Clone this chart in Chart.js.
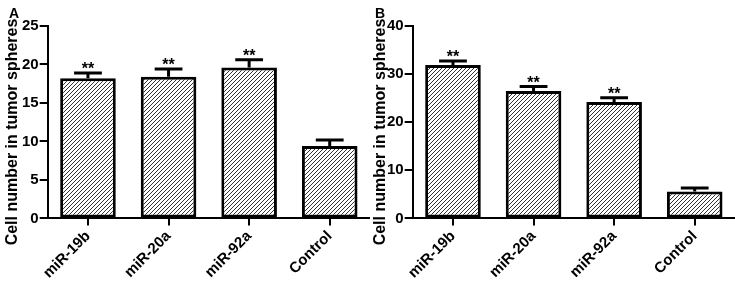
<!DOCTYPE html>
<html>
<head>
<meta charset="utf-8">
<script src="https://cdn.jsdelivr.net/npm/chart.js@4/dist/chart.umd.min.js"></script>
<style>
  html, body { margin: 0; padding: 0; background: #fff; }
  .panel { position: absolute; top: 0; height: 284px; }
  .letter { position: absolute; top: 5px; font: bold 14px "Liberation Sans", Arial, sans-serif; color: #000; }
</style>
</head>
<body>
<div class="panel" style="left:0;width:370px"><canvas id="chartA"></canvas></div>
<div class="panel" style="left:370px;width:365px"><canvas id="chartB"></canvas></div>
<div class="letter" style="left:9px">A</div>
<div class="letter" style="left:375px">B</div>
<script>
const categories = ['miR-19b', 'miR-20a', 'miR-92a', 'Control'];
const valuesA = [18.2, 18.4, 19.6, 9.4];
const errorsA = [0.7, 1.0, 1.0, 0.8];
const valuesB = [31.9, 26.5, 24.2, 5.6];
const errorsB = [0.8, 0.9, 0.9, 0.7];
const marks = ['**', '**', '**', ''];
const yMaxA = 25, yStepA = 5;
const yMaxB = 40, yStepB = 10;
const yTitle = 'Cell number in tumor spheres';

const FONT = '"Liberation Sans", Arial, sans-serif';

function hatch() {
	const c = document.createElement('canvas');
	c.width = c.height = 4;
	const g = c.getContext('2d');
	g.fillStyle = '#fff';
	g.fillRect(0, 0, 4, 4);
	g.strokeStyle = '#333';
	g.lineWidth = 1;
	g.beginPath();
	g.moveTo(0, 4); g.lineTo(4, 0);
	g.moveTo(-1, 1); g.lineTo(1, -1);
	g.moveTo(3, 5); g.lineTo(5, 3);
	g.stroke();
	return g.createPattern(c, 'repeat');
}

// upward error bars + significance stars, placed through the y scale
const errorBars = {
	id: 'errorBars',
	afterDatasetsDraw(chart, args, opts) {
		const { ctx, scales: { y } } = chart;
		const meta = chart.getDatasetMeta(0);
		const vals = chart.data.datasets[0].data;
		ctx.save();
		ctx.strokeStyle = '#000';
		ctx.lineWidth = 3;
		meta.data.forEach((bar, i) => {
			const top = y.getPixelForValue(vals[i] + opts.errors[i]);
			const half = bar.width * 0.25;
			ctx.beginPath();
			ctx.moveTo(bar.x, bar.y);
			ctx.lineTo(bar.x, top);
			ctx.moveTo(bar.x - half, top);
			ctx.lineTo(bar.x + half, top);
			ctx.stroke();
			if (opts.marks[i]) {
				ctx.fillStyle = '#000';
				ctx.font = 'bold 16px ' + FONT;
				ctx.textAlign = 'center';
				ctx.textBaseline = 'alphabetic';
				ctx.fillText(opts.marks[i], bar.x, top + 1);
			}
		});
		ctx.restore();
	},
};

// rotated axis title, sits a bit lower than the plot centre like the original
const sideTitle = {
	id: 'sideTitle',
	afterDraw(chart, args, opts) {
		const { ctx } = chart;
		ctx.save();
		ctx.translate(opts.x, opts.y);
		ctx.rotate(-Math.PI / 2);
		ctx.fillStyle = '#000';
		ctx.font = 'bold 16px ' + FONT;
		ctx.textAlign = 'center';
		ctx.textBaseline = 'middle';
		ctx.fillText(opts.text, 0, 0);
		ctx.restore();
	},
};

function makeChart(id, values, errors, yMax, yStep, padLeft, titleX) {
	const ctx = document.getElementById(id).getContext('2d');
	return new Chart(ctx, {
		type: 'bar',
		data: {
			labels: categories,
			datasets: [{
				data: values,
				backgroundColor: hatch(),
				borderColor: '#000',
				borderWidth: 3,
				borderSkipped: false,
				barPercentage: 0.69,
				categoryPercentage: 1,
			}],
		},
		options: {
			responsive: true,
			maintainAspectRatio: false,
			animation: false,
			layout: { padding: { top: 26, right: 0, bottom: 0, left: padLeft } },
			plugins: {
				legend: { display: false },
				tooltip: { enabled: false },
				errorBars: { errors: errors, marks: marks },
				sideTitle: { text: yTitle, x: titleX, y: 132 },
			},
			scales: {
				x: {
					grid: { display: true, drawOnChartArea: false, offset: false, color: '#000', lineWidth: 2, tickLength: 7 },
					border: { color: '#000', width: 2 },
					ticks: { color: '#000', font: { family: FONT, size: 15, weight: 'bold' }, minRotation: 45, maxRotation: 45, padding: 2 },
				},
				y: {
					min: 0,
					max: yMax,
					grid: { display: true, drawOnChartArea: false, color: '#000', lineWidth: 2, tickLength: 8 },
					border: { color: '#000', width: 2 },
					ticks: { stepSize: yStep, color: '#000', font: { family: FONT, size: 15, weight: 'bold' }, padding: 1 },
				},
			},
		},
		plugins: [errorBars, sideTitle],
	});
}

makeChart('chartA', valuesA, errorsA, yMaxA, yStepA, 21, 13);
makeChart('chartB', valuesB, errorsB, yMaxB, yStepB, 16, 11);
</script>
</body>
</html>
